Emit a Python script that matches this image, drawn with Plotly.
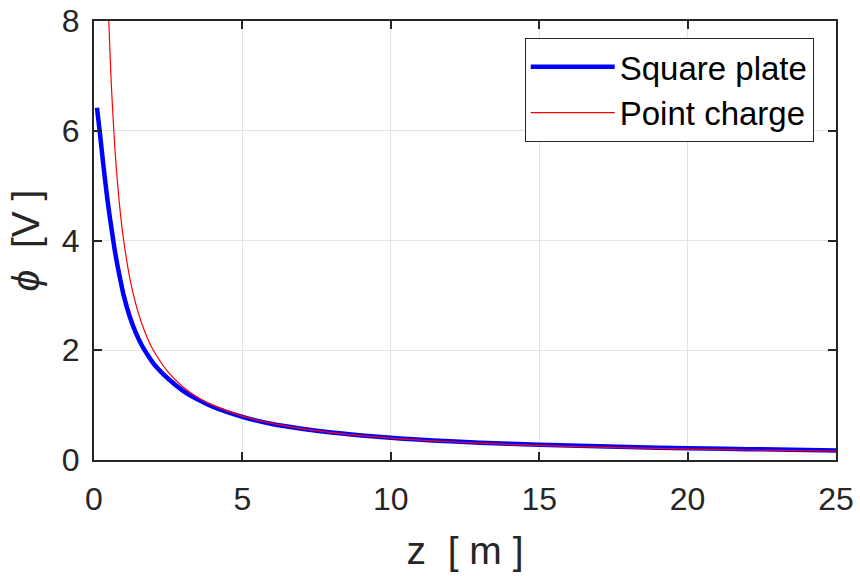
import plotly.graph_objects as go

# Square plate potential
z_plate = [0.1, 0.2, 0.3, 0.4, 0.5, 0.6, 0.7, 0.8, 0.9, 1.0, 1.2, 1.4, 1.6, 1.8, 2.0, 2.25,
           2.5, 3.0, 3.5, 4.0, 5.0, 6.0, 7.0, 8.0, 10.0, 12.0, 14.0, 16.0, 18.0, 20.0, 22.0, 25.0]
phi_plate = [6.42, 5.95, 5.45, 4.98, 4.55, 4.18, 3.82, 3.52, 3.25, 3.0, 2.62, 2.33, 2.1, 1.92, 1.76, 1.61,
             1.48, 1.26, 1.1, 0.97, 0.785, 0.655, 0.568, 0.5, 0.405, 0.34, 0.295, 0.262, 0.236, 0.215, 0.198, 0.175]

# Point charge potential
z_point = [0.47, 0.5, 0.55, 0.6, 0.7, 0.8, 0.9, 1.0, 1.2, 1.4, 1.6, 1.8, 2.0, 2.5, 3.0, 3.5,
           4.0, 5.0, 6.0, 7.0, 8.0, 10.0, 12.0, 14.0, 16.0, 18.0, 20.0, 22.0, 25.0]
phi_point = [8.5, 8.0, 7.27, 6.67, 5.71, 5.0, 4.44, 4.0, 3.33, 2.86, 2.5, 2.22, 2.0, 1.6, 1.33, 1.14,
             1.0, 0.8, 0.667, 0.571, 0.5, 0.4, 0.333, 0.286, 0.25, 0.222, 0.2, 0.182, 0.16]

x_ticks = [0, 5, 10, 15, 20, 25]
y_ticks = [0, 2, 4, 6, 8]

FONT = "Liberation Sans, Arial, Helvetica, sans-serif"
AX = "#262626"

fig = go.Figure()
fig.add_trace(go.Scatter(x=z_plate, y=phi_plate, mode="lines", name="Square plate",
                         line=dict(color="#0000ff", width=4.5, shape="spline", smoothing=0.9)))
fig.add_trace(go.Scatter(x=z_point, y=phi_point, mode="lines", name="Point charge",
                         line=dict(color="#ff0000", width=1.2, shape="spline", smoothing=0.9)))

axis_common = dict(showline=True, linewidth=2, linecolor=AX, mirror="ticks",
                   ticks="inside", ticklen=8, tickwidth=2, tickcolor=AX,
                   showgrid=True, gridcolor="#e3e3e3", gridwidth=1, zeroline=False,
                   automargin=False,
                   tickfont=dict(family=FONT, size=32, color=AX))

fig.update_xaxes(range=[0, 25], tickvals=x_ticks, ticktext=[str(v) for v in x_ticks],
                 ticklabelstandoff=10,
                 title=dict(text="z&nbsp;&nbsp;[ m ]", font=dict(family=FONT, size=39, color=AX), standoff=20),
                 **axis_common)
fig.update_yaxes(range=[0, 8], tickvals=y_ticks, ticktext=[str(v) for v in y_ticks],
                 ticklabelstandoff=6,
                 title=dict(text="<i>ϕ</i>&nbsp;&nbsp;[V ]", font=dict(family=FONT, size=39, color=AX), standoff=10),
                 **axis_common)

fig.update_layout(
    width=860, height=576,
    margin=dict(l=94, r=24, t=21, b=116),
    paper_bgcolor="white", plot_bgcolor="white",
    legend=dict(x=0.97, y=0.962, xanchor="right", yanchor="top",
                bgcolor="white", bordercolor=AX, borderwidth=1,
                font=dict(family=FONT, size=33, color="black"),
                itemwidth=84, tracegroupgap=0),
    showlegend=True,
)

fig.write_html("out.html", config={"displayModeBar": False},
               post_script="document.body.style.margin='0';document.body.style.padding='0';")
